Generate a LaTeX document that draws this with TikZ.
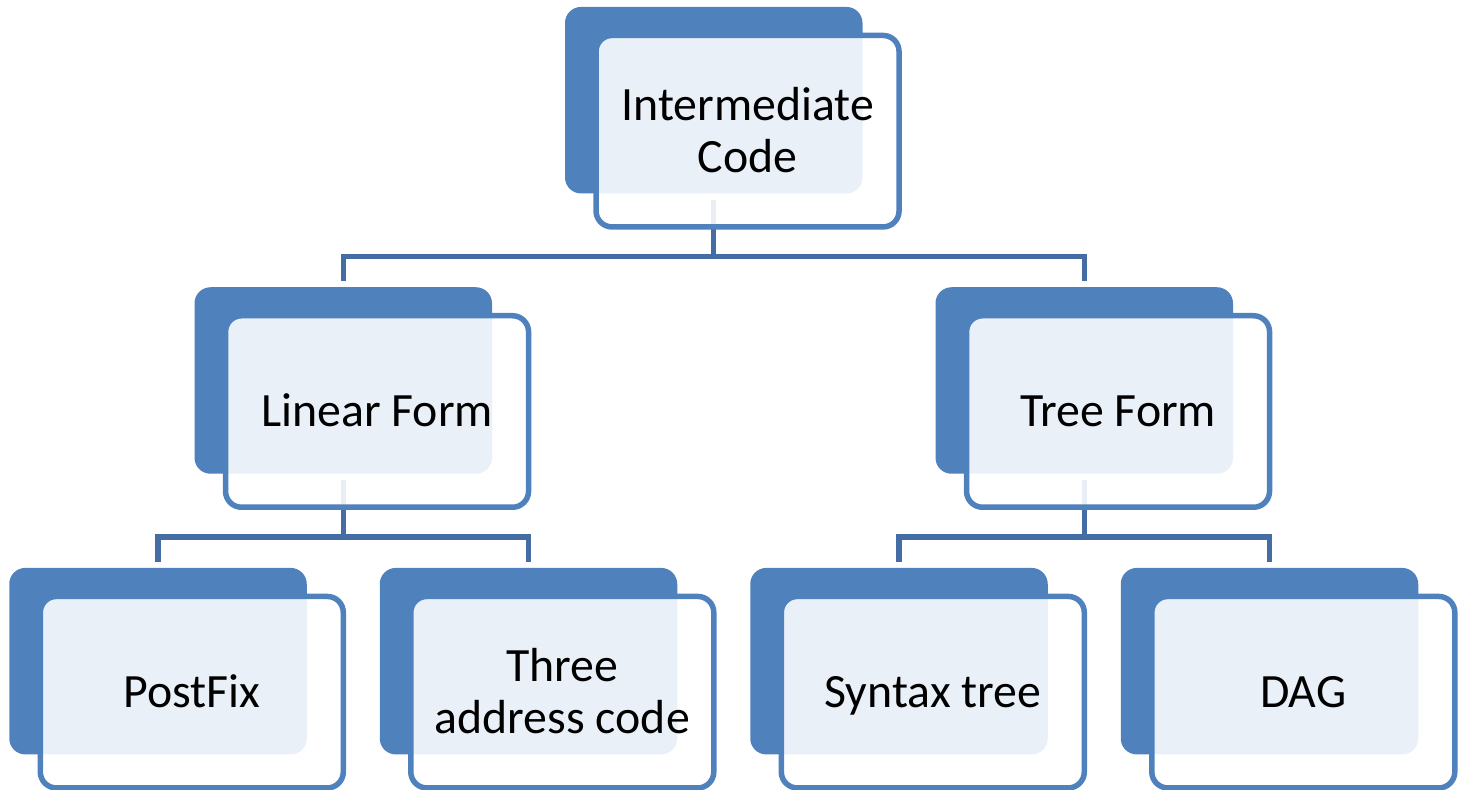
\documentclass[tikz,border=0pt]{standalone}
\usepackage{fontspec}
\setmainfont{Carlito}
\definecolor{accent}{RGB}{79,129,189}
\definecolor{linkc}{RGB}{68,110,163}
% line strut: height minus depth equals the cap height, so every label is centred on its capitals
\newcommand{\lbl}{\rule[-5pt]{0pt}{25.4pt}}
\tikzset{
  backbox/.style={fill=accent, draw=none, rounded corners=8pt, inner sep=0pt,
    minimum width=148.75pt, minimum height=93.25pt},
  frontbox/.style={draw=accent, line width=2.75pt, fill=white, fill opacity=0.886,
    text opacity=1, rounded corners=8pt, inner sep=0pt, align=center,
    minimum width=151.5pt, minimum height=95.75pt,
    font=\fontsize{23.9}{25.8}\selectfont},
  front/.style={xshift=16.9pt, yshift=-15.5pt},
  link/.style={draw=linkc, line width=2.65pt},
}
\begin{document}
\begin{tikzpicture}[x=0.5pt, y=-0.5pt]
\useasboundingbox (0,0) rectangle (1464,790);

% junctions of the tree
\coordinate (bus1) at (713.75,256.7);
\coordinate (bus2) at (343.25,537);
\coordinate (bus3) at (1084.25,537);

% back plates
\node[backbox] (top-b) at (713.75,100.2) {};
\node[backbox] (lin-b) at (343.25,380.5) {};
\node[backbox] (tree-b) at (1084.25,380.5) {};
\node[backbox] (post-b) at (158,661.2) {};
\node[backbox] (three-b) at (528.5,661.2) {};
\node[backbox] (syn-b) at (899,661.2) {};
\node[backbox] (dag-b) at (1269.5,661.2) {};

% connectors, drawn before the front plates so that these cover them
\draw[link] ([yshift=-3pt]top-b.south) -- (bus1) -| ([yshift=3pt]lin-b.north);
\draw[link] (bus1) -| ([yshift=3pt]tree-b.north);
\draw[link] ([yshift=-3pt]lin-b.south) -- (bus2) -| ([yshift=3pt]post-b.north);
\draw[link] (bus2) -| ([yshift=3pt]three-b.north);
\draw[link] ([yshift=-3pt]tree-b.south) -- (bus3) -| ([yshift=3pt]syn-b.north);
\draw[link] (bus3) -| ([yshift=3pt]dag-b.north);

% front plates with labels
\node[frontbox] (top) at ([front]top-b.center) {\lbl Intermediate\\\lbl Code};
\node[frontbox] (lin) at ([front]lin-b.center) {\lbl Linear Form};
\node[frontbox] (tree) at ([front]tree-b.center) {\lbl Tree Form};
\node[frontbox] (post) at ([front]post-b.center) {\lbl PostFix};
\node[frontbox] (three) at ([front]three-b.center) {\lbl Three\\\lbl address code};
\node[frontbox] (syn) at ([front]syn-b.center) {\lbl Syntax tree};
\node[frontbox] (dag) at ([front]dag-b.center) {\lbl DAG};
\end{tikzpicture}
\end{document}
